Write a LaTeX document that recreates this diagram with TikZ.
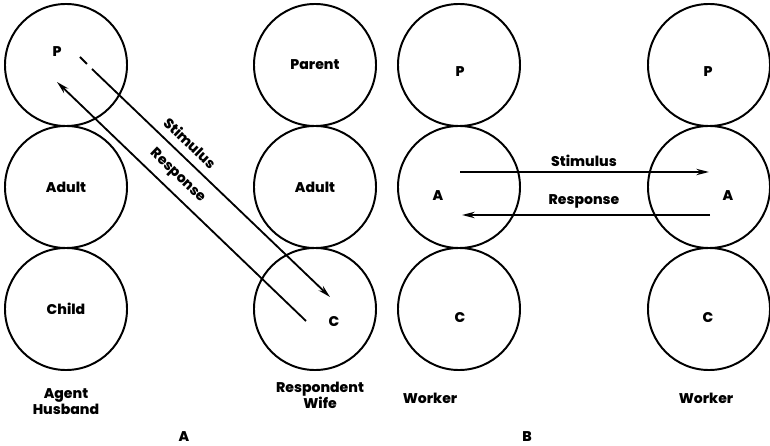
\documentclass[tikz,border=0pt]{standalone}
\usepackage{fontspec}
\setmainfont{Poppins}[BoldFont={Poppins ExtraBold}]
\usetikzlibrary{arrows.meta}
\begin{document}
\begin{tikzpicture}[x=0.025cm,y=-0.025cm,
  ring/.style={circle,draw,line width=1.4pt,minimum size=3.05cm,inner sep=0pt,
    font=\bfseries\fontsize{10}{12}\selectfont},
  txt/.style={font=\bfseries\fontsize{10}{12}\selectfont,inner sep=1pt},
  undertext/.style={font=\bfseries\fontsize{10}{11.5}\selectfont,align=center,inner sep=0pt},
  msg/.style={line width=1.3pt,-{Stealth[length=9pt,width=4.5pt]}},
  plain/.style={line width=1.3pt}]
\useasboundingbox (0,0) rectangle (770,446);
% ---- A: agent and respondent
\node[ring] (hP) at (66,65) {};
\node[ring] (hA) at (66,187) {Adult};
\node[ring] (hC) at (66,309) {Child};
\node[ring] (wP) at (315,65) {Parent};
\node[ring] (wA) at (315,187) {Adult};
\node[ring] (wC) at (315,309) {};
\node[txt] (hPl) at (57,52) {P};
\node[txt] (wCl) at (334,322) {C};
% crossed transaction
\coordinate (s0) at (80,57);
\coordinate (s1) at (87,64);
\coordinate (s2) at (92,69);
\coordinate (s3) at (330,297);
\coordinate (r0) at (306,321);
\coordinate (r1) at (57,82);
\draw[plain] (s0) -- (s1);
\draw[msg] (s2) -- node[pos=0.37,above=4.5pt,sloped,txt]{Stimulus} (s3);
\draw[msg] (r0) -- node[pos=0.56,above=4.5pt,sloped,txt]{Response} (r1);
\node[undertext] (agent) at (66,402) {Agent\\Husband};
\node[undertext] (resp) at (320,395) {Respondent\\Wife};
\node[txt] (capA) at (184,437) {A};
% ---- B: two workers
\node[ring] (aP) at (459,65) {};
\node[ring] (aA) at (459,187) {};
\node[ring] (aC) at (459,309) {};
\node[ring] (bP) at (709,65) {};
\node[ring] (bA) at (709,187) {};
\node[ring] (bC) at (709,309) {};
\node[txt] (aPl) at (460,72) {P};
\node[txt] (aAl) at (438,196) {A};
\node[txt] (aCl) at (460,318) {C};
\node[txt] (bPl) at (708,72) {P};
\node[txt] (bAl) at (728,196) {A};
\node[txt] (bCl) at (708,318) {C};
\coordinate (t0) at (460,172);
\coordinate (t1) at (709,172);
\coordinate (u0) at (710,215);
\coordinate (u1) at (462,215);
\draw[msg] (t0) -- (t1);
\draw[msg] (u0) -- (u1);
\node[txt] (stB) at (584,161) {Stimulus};
\node[txt] (rsB) at (584,201) {Response};
\node[undertext] (wk1) at (430,398) {Worker};
\node[undertext] (wk2) at (706,398) {Worker};
\node[txt] (capB) at (527,437) {B};
\end{tikzpicture}
\end{document}
